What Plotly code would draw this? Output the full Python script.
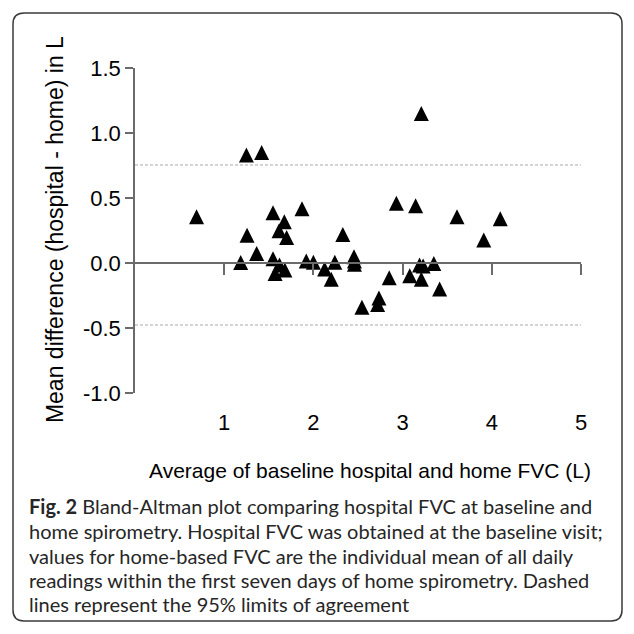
import plotly.graph_objects as go

# ---- data ----
avg_fvc = [0.69, 1.185, 1.249, 1.256, 1.364, 1.42, 1.547, 1.547, 1.615, 1.674,
           1.70, 1.62, 1.68, 1.57, 1.872, 1.92, 2.0, 2.126, 2.20, 2.24,
           2.33, 2.455, 2.46, 2.46, 2.544, 2.735, 2.72, 2.85, 2.93, 3.146,
           3.08, 3.19, 3.23, 3.21, 3.35, 3.415, 3.21, 3.61, 4.095, 3.91]
mean_diff = [0.356, 0.003, 0.83, 0.213, 0.074, 0.85, 0.387, 0.033, 0.249, 0.318,
             0.197, -0.015, -0.054, -0.08, 0.418, 0.015, 0.005, -0.046, -0.125, 0.005,
             0.22, 0.048, 0.015, -0.01, -0.34, -0.27, -0.32, -0.113, 0.46, 0.44,
             -0.098, -0.015, -0.023, -0.125, -0.003, -0.2, 1.15, 0.356, 0.34, 0.177]
limits_of_agreement = [0.754, -0.477]
x_tick_vals = [1, 2, 3, 4, 5]
y_tick_vals = [-1.0, -0.5, 0.0, 0.5, 1.0, 1.5]
y_tick_text = ["-1.0", "-0.5", "0.0", "0.5", "1.0", "1.5"]
x_title = "Average of baseline hospital and home FVC (L)"
y_title = "Mean difference (hospital - home) in L"
caption_lines = [
    "<b>Fig. 2</b> Bland-Altman plot comparing hospital FVC at baseline and",
    "home spirometry. Hospital FVC was obtained at the baseline visit;",
    "values for home-based FVC are the individual mean of all daily",
    "readings within the first seven days of home spirometry. Dashed",
    "lines represent the 95% limits of agreement",
]

# ---- layout geometry (page pixels; the browser adds an 8px body margin) ----
OFF = 8
W = H = 634 - OFF
PLOT_L, PLOT_R, PLOT_T, PLOT_B = 135, 581.5, 68, 393
ML, MT = PLOT_L - OFF, PLOT_T - OFF
MR, MB = 634 - PLOT_R, 634 - PLOT_B
plot_w = W - ML - MR
plot_h = H - MT - MB
x_range = [0, 5]
y_range = [-1.0, 1.5]
marker_size = 15
# plotly's arrow-up has its tip on the point; shift so the triangle is centred
px_per_unit = plot_h / (y_range[1] - y_range[0])
tip_offset = (marker_size / 2) / px_per_unit
y_marker = [d + tip_offset for d in mean_diff]

def fx(px):
    return (px - PLOT_L) / plot_w

def fy(py):
    return (PLOT_B - py) / plot_h

AX = "#6b6b6b"
FONT = "Liberation Sans, Arial, sans-serif"

fig = go.Figure()
fig.add_trace(go.Scatter(
    x=avg_fvc, y=y_marker, customdata=mean_diff, mode="markers",
    marker=dict(symbol="arrow-up", size=marker_size, color="black", line=dict(width=0)),
    hovertemplate="%{x}, %{customdata}<extra></extra>",
))

for v in limits_of_agreement:
    fig.add_shape(type="line", xref="x", yref="y", x0=x_range[0], x1=x_range[1], y0=v, y1=v,
                  line=dict(color="#a8a8a8", width=1, dash="3px,2px"), layer="below")

# rounded frame around figure + caption
x0, y0, x1, y1, r = 13, 13, 622, 621, 11
def P(px, py):
    return f"{px - PLOT_L},{PLOT_B - py}"
path = (f"M{P(x0 + r, y0)} L{P(x1 - r, y0)} Q{P(x1, y0)} {P(x1, y0 + r)} "
        f"L{P(x1, y1 - r)} Q{P(x1, y1)} {P(x1 - r, y1)} L{P(x0 + r, y1)} "
        f"Q{P(x0, y1)} {P(x0, y1 - r)} L{P(x0, y0 + r)} Q{P(x0, y0)} {P(x0 + r, y0)} Z")
fig.add_shape(type="path", xref="paper", yref="paper", xsizemode="pixel", ysizemode="pixel",
              xanchor=0, yanchor=0, path=path, line=dict(color="#3a3a3a", width=1.5))

fig.add_annotation(text=x_title, xref="paper", yref="paper", x=fx(370), y=fy(470),
                   xanchor="center", yanchor="middle", showarrow=False,
                   font=dict(family=FONT, size=21, color="black"))
fig.add_annotation(text=y_title, xref="paper", yref="paper", x=fx(55), y=fy(230),
                   xanchor="center", yanchor="middle", showarrow=False, textangle=-90,
                   font=dict(family=FONT, size=23, color="black"))
caption_y = [506, 531, 556, 580, 604]
for line, cy in zip(caption_lines, caption_y):
    fig.add_annotation(text=line, xref="paper", yref="paper", x=fx(27), y=fy(cy),
                       xanchor="left", yanchor="middle", align="left", showarrow=False,
                       font=dict(family="Lato, sans-serif", size=20, color="#262626"))

fig.update_layout(
    width=W, height=H, margin=dict(l=ML, r=MR, t=MT, b=MB, pad=0),
    paper_bgcolor="white", plot_bgcolor="white", showlegend=False,
    font=dict(family=FONT, size=22, color="black"),
    xaxis=dict(range=x_range, anchor="free", position=(0 - y_range[0]) / (y_range[1] - y_range[0]),
               tickvals=x_tick_vals, ticks="outside", ticklen=11, tickwidth=1.5, tickcolor=AX,
               showline=True, linecolor=AX, linewidth=1.5, showgrid=False, zeroline=False,
               ticklabelstandoff=129, tickfont=dict(family=FONT, size=22, color="black")),
    yaxis=dict(range=y_range, tickvals=y_tick_vals, ticktext=y_tick_text, ticks="outside",
               ticklen=8, tickwidth=1.5, tickcolor=AX, showline=True, linecolor=AX, linewidth=1.5,
               showgrid=False, zeroline=False, tickfont=dict(family=FONT, size=22, color="black")),
)

fig.write_html("out.html")
